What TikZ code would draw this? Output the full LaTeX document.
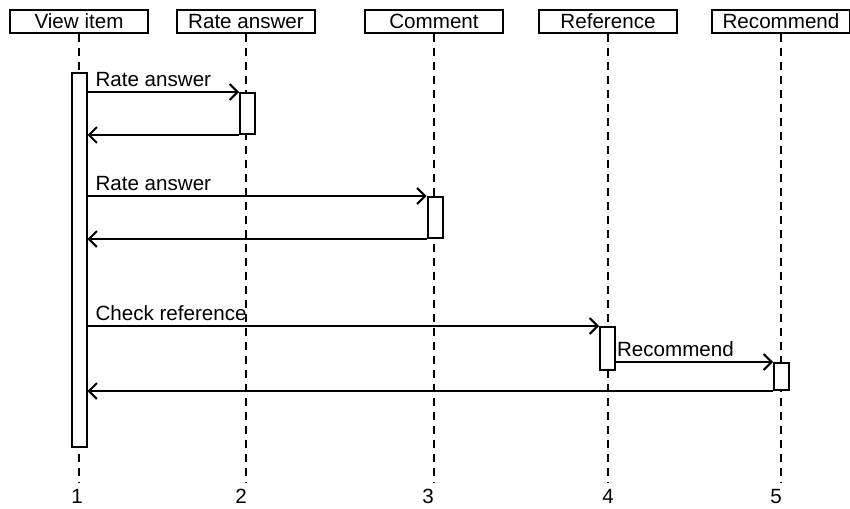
\documentclass[tikz,border=0pt]{standalone}
\usepackage{fontspec}
\setmainfont{Liberation Sans}
\usetikzlibrary{arrows.meta}

\begin{document}
\begin{tikzpicture}[x=0.5pt,y=-0.5pt,line width=1pt,
    every node/.style={font=\fontsize{10.3}{12}\selectfont},
    head node/.style={draw,minimum width=69pt,minimum height=11.5pt,inner sep=0pt},
    bar node/.style={draw,fill=white,minimum width=7.5pt,inner sep=0pt,anchor=north},
    num node/.style={anchor=base,inner sep=0pt},
    life line/.style={dash pattern=on 4pt off 3pt},
    msg/.style={-{Straight Barb[length=4pt,width=8pt]}},
    lbl/.style={pos=0,anchor=south west,inner xsep=3.5pt,inner ysep=2pt}]
  \useasboundingbox (0,0) rectangle (850,508);

  % objects
  \node[head node] (h1) at (79,21.5) {View item};
  \node[head node] (h2) at (246,21.5) {Rate answer};
  \node[head node] (h3) at (434,21.5) {Comment};
  \node[head node] (h4) at (608,21.5) {Reference};
  \node[head node] (h5) at (781,21.5) {Recommend};

  \node[num node] (n1) at (77,503) {1};
  \node[num node] (n2) at (241,503) {2};
  \node[num node] (n3) at (428,503) {3};
  \node[num node] (n4) at (608,503) {4};
  \node[num node] (n5) at (776,503) {5};

  % lifelines
  \foreach \i in {1,...,5}
    \draw[life line] (h\i.south) -- ([yshift=2.5pt]h\i.south |- n\i.north);

  % activations
  \node[bar node,minimum height=187pt] (a1) at (79,72) {};
  \node[bar node,minimum height=20.5pt] (a2) at (247.5,92) {};
  \node[bar node,minimum height=20.5pt] (a3) at (435,196) {};
  \node[bar node,minimum height=21.5pt] (a4) at (607.5,326) {};
  \node[bar node,minimum height=13.5pt] (a5) at (781.5,362) {};

  % messages
  \draw[msg] (a1.east |- a2.north) -- node[lbl] {Rate answer} (a2.north west);
  \draw[msg] (a2.south west) -- (a1.east |- a2.south);
  \draw[msg] (a1.east |- a3.north) -- node[lbl] {Rate answer} (a3.north west);
  \draw[msg] (a3.south west) -- (a1.east |- a3.south);
  \draw[msg] (a1.east |- a4.north) -- node[lbl] {Check reference} (a4.north west);
  \draw[msg] (a4.east |- a5.north) -- node[lbl,inner xsep=0pt] {Recommend} (a5.north west);
  \draw[msg] (a5.south west) -- (a1.east |- a5.south);
\end{tikzpicture}
\end{document}
